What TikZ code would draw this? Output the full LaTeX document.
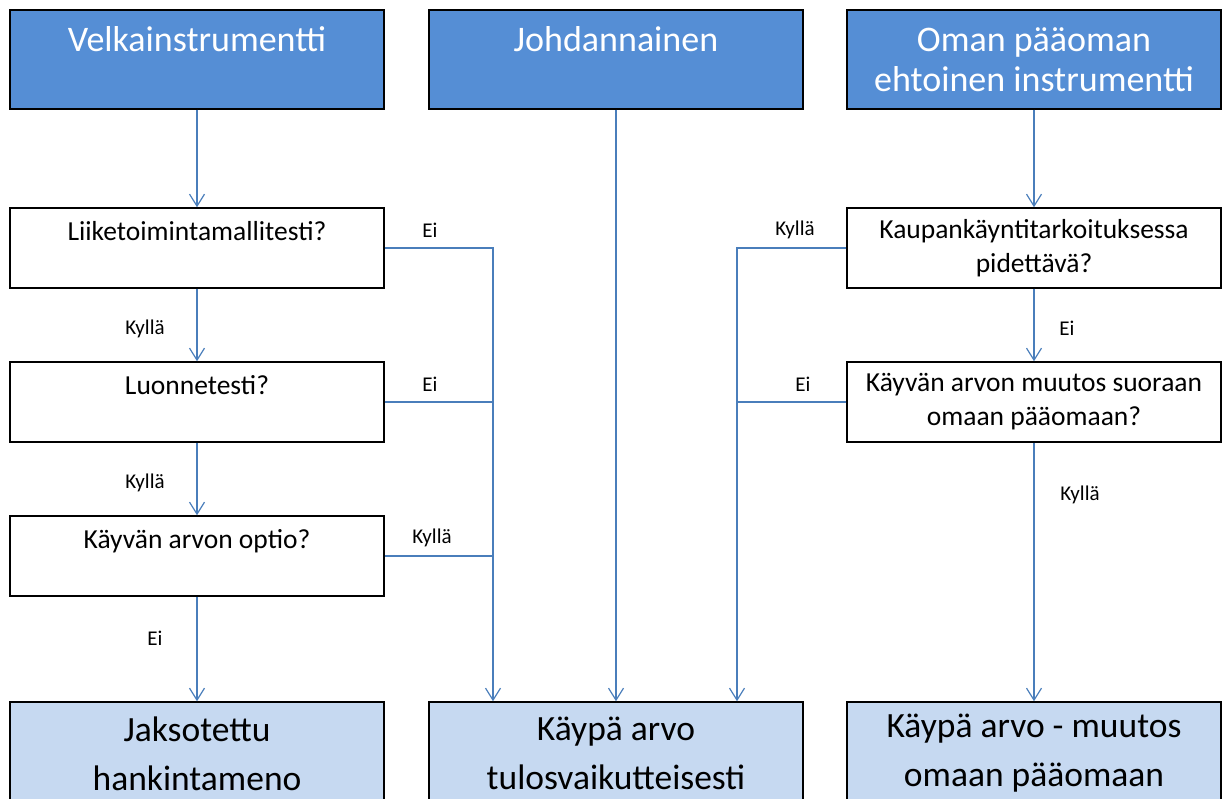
\documentclass[tikz,border=0pt]{standalone}
\usepackage{fontspec}
\setmainfont{Carlito}
\usetikzlibrary{arrows.meta}
\definecolor{topblue}{HTML}{558ED5}
\definecolor{lowblue}{HTML}{C6D9F1}
\definecolor{linkblue}{HTML}{4A7EBB}
\begin{document}
\begin{tikzpicture}[x=1pt, y=-1pt,
  every node/.style = {align=center, inner sep=0pt},
  box/.style = {draw=black, line width=1.5pt, minimum width=374pt},
  topbox/.style = {box, fill=topblue, text=white, minimum height=99pt,
    font=\fontsize{36}{40}\selectfont},
  askbox/.style = {box, fill=white, minimum height=80pt,
    font=\fontsize{27.5}{34}\selectfont},
  endbox/.style = {box, fill=lowblue, minimum height=103pt,
    font=\fontsize{35.5}{49}\selectfont},
  answer/.style = {font=\fontsize{21}{25}\selectfont},
  link/.style = {draw=linkblue, line width=1.2pt},
  arr/.style = {link, -{Straight Barb[length=12pt, width=15pt]}}]
  \useasboundingbox (0,0) rectangle (1222,799);
  \node [topbox] (velka) at (197,59.5) {Velkainstrumentti\\ \mbox{}};
  \node [topbox] (johd) at (616,59.5) {Johdannainen\\ \mbox{}};
  \node [topbox] (oma) at (1034,59.5) {Oman pääoman\\ ehtoinen instrumentti};
  \node [askbox] (liike) at (197,248) {Liiketoimintamallitesti?\\ \mbox{}};
  \node [askbox] (luonne) at (197,402) {Luonnetesti?\\ \mbox{}};
  \node [askbox] (optio) at (197,556) {Käyvän arvon optio?\\ \mbox{}};
  \node [askbox] (kauppa) at (1034,248) {Kaupankäyntitarkoituksessa\\ pidettävä?};
  \node [askbox] (muutos) at (1034,402) {Käyvän arvon muutos suoraan\\ omaan pääomaan?};
  \node [endbox] (jakso) at (197,753.5) {Jaksotettu\\ hankintameno};
  \node [endbox] (tulos) at (616,753.5) {Käypä arvo\\ tulosvaikutteisesti};
  \node [endbox] (omaan) at (1034,753.5) {Käypä arvo - muutos\\ omaan pääomaan};
  \coordinate (tulosl) at ([xshift=-123pt]tulos.north);
  \coordinate (tulosr) at ([xshift=121pt]tulos.north);
  % left column
  \path [arr] (velka) -- (liike);
  \path [arr] (liike) -- node [answer, pos=0.55, xshift=-52pt] (k1) {Kyllä} (luonne);
  \path [arr] (luonne) -- node [answer, pos=0.55, xshift=-52pt] (k2) {Kyllä} (optio);
  \path [arr] (optio) -- node [answer, pos=0.4, xshift=-42pt] (e1) {Ei} (jakso);
  \path [arr] (liike.east) -| (tulosl);
  \path [link] (luonne.east) -- (luonne.east -| tulosl);
  \path [link] (optio.east) -- (optio.east -| tulosl);
  \node [answer] (e2) at (430,230) {Ei};
  \node [answer] (e3) at (430,384) {Ei};
  \node [answer] (k3) at (432,538) {Kyllä};
  % middle
  \path [arr] (johd) -- (tulos);
  % right column
  \path [arr] (oma) -- (kauppa);
  \path [arr] (kauppa) -- node [answer, pos=0.55, xshift=33pt] (e4) {Ei} (muutos);
  \path [arr] (muutos) -- node [answer, pos=0.2, xshift=46pt] (k4) {Kyllä} (omaan);
  \path [arr] (kauppa.west) -| (tulosr);
  \path [link] (muutos.west) -- (muutos.west -| tulosr);
  \node [answer] (k5) at (795,230) {Kyllä};
  \node [answer] (e5) at (803,384) {Ei};
\end{tikzpicture}
\end{document}
